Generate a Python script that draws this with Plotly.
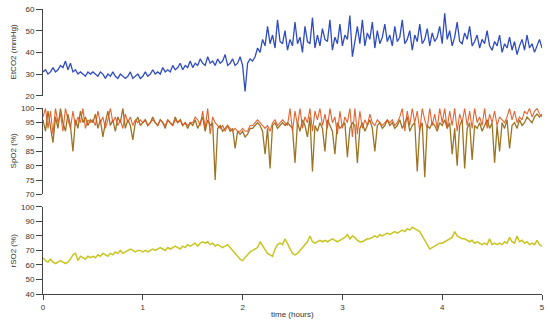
import numpy as np
import plotly.graph_objects as go

# time grid (hours), 0.025 h step
time_h = np.round(np.arange(0, 201) * 0.025, 3)

etco2 = [
    31,32,30,31,33,31,32,34,33,36,32,35,31,32,30,31,30,29,31,30,
    31,30,29,31,30,28,30,29,31,29,28,30,29,28,29,31,28,29,30,28,
    29,31,29,30,32,30,31,30,33,31,32,31,34,32,33,35,32,34,33,36,
    33,35,34,37,35,34,38,35,36,34,37,35,36,39,34,35,37,34,35,38,
    34,22,35,37,36,38,42,40,46,43,52,44,48,42,55,45,44,50,41,46,
    43,54,44,47,40,52,45,44,56,42,48,43,51,46,45,55,41,47,44,53,
    43,48,46,57,38,45,52,44,55,43,49,46,54,42,50,44,47,53,45,48,
    43,52,45,47,55,44,46,50,41,48,45,53,44,46,51,43,49,45,47,52,
    44,58,46,50,43,47,54,45,44,49,46,52,43,45,48,42,46,44,50,43,
    41,45,43,48,40,44,42,47,41,45,39,43,46,41,48,42,44,40,43,46,
    42,
]

spo2_olive = [
    96,92,99,94,88,97,93,100,95,92,98,94,85,96,93,99,95,97,94,96,
    95,98,93,96,90,95,99,94,96,92,97,95,100,93,96,94,89,95,97,94,
    95,96,94,95,97,95,94,96,95,93,96,95,94,97,95,96,94,95,93,95,
    94,96,93,95,97,92,96,94,95,75,93,94,92,93,94,92,93,86,92,91,
    92,90,91,93,93,94,95,94,92,84,93,79,94,95,93,94,95,94,95,94,
    93,81,95,92,96,94,90,97,78,94,92,95,93,85,96,94,92,84,95,93,
    94,95,83,93,95,94,81,93,95,92,94,96,93,85,94,95,93,94,96,94,
    95,93,94,96,93,95,97,92,94,95,78,93,95,76,94,93,95,94,92,95,
    94,96,93,95,84,93,80,94,96,79,93,95,82,94,93,95,92,94,96,93,
    95,81,94,85,95,93,96,86,94,95,93,96,94,95,97,96,95,97,98,97,
    98,
]

spo2_orange = [
    97,100,93,99,91,100,95,98,92,100,96,93,99,94,97,95,100,93,96,95,
    96,94,99,95,97,93,96,100,95,97,94,96,93,98,95,97,94,96,95,96,
    95,96,94,95,96,95,94,96,95,94,96,95,94,96,95,96,94,95,94,95,
    95,97,96,94,99,93,100,91,97,95,94,93,94,92,94,93,92,93,92,92,
    93,92,92,94,94,95,96,95,94,93,94,92,95,96,94,95,96,95,94,100,
    92,99,94,100,93,97,95,100,92,99,96,100,94,98,93,100,95,97,91,99,
    93,97,95,100,90,100,91,99,93,96,94,98,95,94,96,95,94,95,96,95,
    96,94,95,97,100,92,99,94,100,95,99,92,100,96,93,100,94,98,93,100,
    95,100,93,99,94,100,92,98,95,100,94,99,93,100,95,97,94,100,93,98,
    95,99,94,97,96,95,97,100,96,99,95,97,96,99,98,100,97,99,100,98,
    97,
]

rso2 = [
    65,63,62,64,62,61,62,63,62,61,62,64,67,68,63,66,65,64,66,65,
    66,65,67,66,68,67,66,68,67,69,68,70,68,69,70,71,70,69,70,70,
    69,70,69,70,71,70,71,72,71,70,72,71,72,73,72,71,73,72,74,73,
    74,75,73,75,76,75,76,74,75,73,74,73,72,73,74,72,70,68,66,64,
    63,65,67,69,70,71,72,76,73,70,68,67,66,71,74,75,74,78,75,71,
    68,67,68,70,72,74,76,80,76,75,76,77,76,77,76,77,78,77,76,77,
    78,79,81,78,80,79,77,76,76,77,78,78,79,80,79,81,80,81,82,81,
    82,83,82,83,84,83,85,84,86,85,84,83,80,77,74,71,72,73,74,75,
    75,76,77,78,79,83,80,79,78,78,77,76,77,75,76,75,74,75,74,78,
    74,75,74,75,74,76,75,79,76,75,80,76,77,75,76,74,75,74,77,74,
    73,
]

x_ticks = [0, 1, 2, 3, 4, 5]
y_titles = ["EtCO2 (mmHg)", "SpO2 (%)", "rSO2 (%)"]

fig = go.Figure()
fig.add_trace(go.Scatter(x=time_h, y=etco2, mode="lines",
                         line=dict(color="#2f4cc0", width=1.3), xaxis="x", yaxis="y"))
fig.add_trace(go.Scatter(x=time_h, y=spo2_olive, mode="lines",
                         line=dict(color="#9c7424", width=1.3), xaxis="x2", yaxis="y2"))
fig.add_trace(go.Scatter(x=time_h, y=spo2_orange, mode="lines",
                         line=dict(color="#e0561c", width=1.1), opacity=0.9,
                         xaxis="x2", yaxis="y2"))
fig.add_trace(go.Scatter(x=time_h, y=rso2, mode="lines",
                         line=dict(color="#c9c420", width=1.5), xaxis="x3", yaxis="y3"))

yax = dict(showline=True, linecolor="#444", linewidth=1, ticks="outside", ticklen=6,
           tickcolor="#444", showgrid=False, zeroline=False,
           tickfont=dict(size=8, color="#333", family="Liberation Sans"))
hidden_x = dict(range=[0, 5], visible=False)

fig.update_layout(
    width=550, height=320,
    margin=dict(l=43, r=7, t=5, b=26),
    paper_bgcolor="white", plot_bgcolor="white",
    showlegend=False,
    xaxis=dict(hidden_x, anchor="y"),
    xaxis2=dict(hidden_x, anchor="y2"),
    xaxis3=dict(range=[0, 5], anchor="y3", showline=True, linecolor="#444", linewidth=1,
                ticks="outside", ticklen=5, tickcolor="#444", tickvals=x_ticks,
                showgrid=False, zeroline=False,
                tickfont=dict(size=8, color="#333", family="Liberation Sans")),
    yaxis=dict(yax, domain=[0.6955, 1.0], range=[20, 60], dtick=10, anchor="x"),
    yaxis2=dict(yax, domain=[0.3495, 0.6515], range=[70, 100], dtick=5, anchor="x2"),
    yaxis3=dict(yax, domain=[0.0, 0.3055], range=[40, 100], dtick=10, anchor="x3"),
)

centers = [(0.6955 + 1.0) / 2, (0.3495 + 0.6515) / 2, 0.3055 / 2]
for t, c in zip(y_titles, centers):
    fig.add_annotation(text=t, xref="paper", yref="paper", x=-0.06, y=c,
                       textangle=-90, showarrow=False, xanchor="center", yanchor="middle",
                       font=dict(size=8, color="#333", family="Liberation Sans"))
fig.add_annotation(text="time (hours)", xref="paper", yref="paper", x=0.5, y=-0.073,
                   showarrow=False, xanchor="center", yanchor="middle",
                   font=dict(size=8, color="#333", family="Liberation Sans"))

fig.write_html("out.html", config={"displayModeBar": False},
               post_script="document.body.style.margin='0';document.body.style.overflow='hidden';")
